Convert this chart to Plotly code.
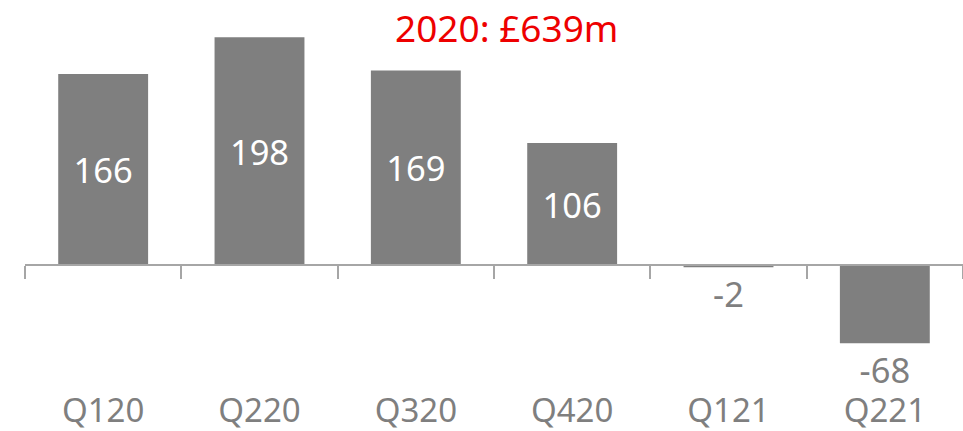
import plotly.graph_objects as go

quarters = ["Q120", "Q220", "Q320", "Q420", "Q121", "Q221"]
values = [166, 198, 169, 106, -2, -68]
title_text = "2020: £639m"

FONT = "Noto Sans"
GRAY = "#7f7f7f"
AXIS = "#a6a6a6"

positions = ["inside" if v > 0 else "outside" for v in values]

ymin, ymax = -144.4, 230.4
zero_pos = (0 - ymin) / (ymax - ymin)

fig = go.Figure(
    go.Bar(
        x=quarters,
        y=values,
        marker=dict(color=GRAY, line=dict(width=0)),
        width=0.575,
        text=[str(v) for v in values],
        textposition=positions,
        insidetextanchor="middle",
        textangle=0,
        constraintext="none",
        insidetextfont=dict(family=FONT, size=34.5, color="white"),
        outsidetextfont=dict(family=FONT, size=34.5, color=GRAY),
        cliponaxis=False,
    )
)

fig.update_layout(
    width=963,
    height=431,
    margin=dict(l=25, r=0, t=0, b=0, autoexpand=False),
    paper_bgcolor="white",
    plot_bgcolor="white",
    showlegend=False,
    font=dict(family=FONT, color=GRAY),
    xaxis=dict(
        anchor="free",
        position=zero_pos,
        automargin=False,
        showline=True,
        linecolor=AXIS,
        linewidth=2,
        ticks="outside",
        tickson="boundaries",
        ticklen=13,
        tickwidth=1.5,
        tickcolor=AXIS,
        showgrid=False,
        zeroline=False,
        tickfont=dict(family=FONT, size=33, color=GRAY),
        ticklabelstandoff=116,
    ),
    yaxis=dict(
        range=[ymin, ymax],
        visible=False,
        automargin=False,
        showgrid=False,
        zeroline=False,
    ),
    annotations=[
        dict(
            text=title_text,
            x=(507 - 25) / 938,
            y=1 - 28 / 431,
            xref="paper",
            yref="paper",
            xanchor="center",
            yanchor="middle",
            showarrow=False,
            font=dict(family=FONT, size=37, color="#ee0000"),
        )
    ],
)

fig.write_html("out.html")
